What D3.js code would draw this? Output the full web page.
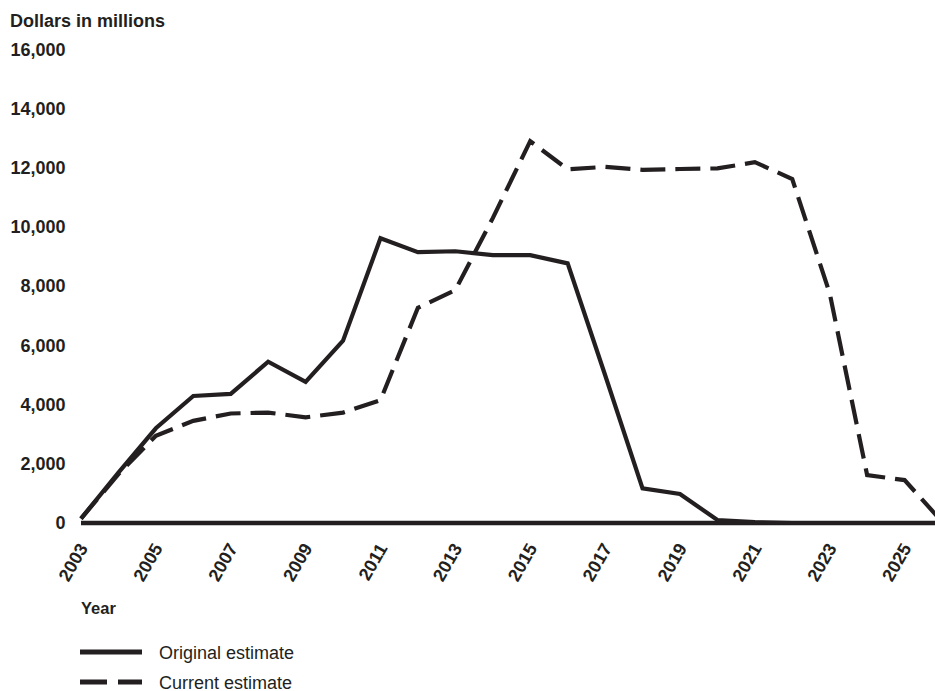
<!DOCTYPE html>
<html>
<head>
<meta charset="utf-8">
<script src="https://cdn.jsdelivr.net/npm/d3@7"></script>
<style>
  html, body { margin: 0; padding: 0; background: #fff; }
  svg { display: block; font-family: "Liberation Sans", Arial, Helvetica, sans-serif; }
</style>
</head>
<body>
<svg id="chart" width="935" height="691"></svg>
<script>
// ---- Data ----
const years = [2003,2004,2005,2006,2007,2008,2009,2010,2011,2012,2013,2014,2015,2016,2017,2018,2019,2020,2021,2022,2023,2024,2025,2026];
const originalEstimate = [150,1700,3200,4290,4360,5450,4770,6160,9620,9150,9180,9050,9050,8770,5000,1170,980,100,30,0,0,0,0,0];
const currentEstimate  = [150,1650,2950,3450,3700,3730,3570,3730,4150,7270,7870,10300,12900,11950,12030,11930,11960,11980,12190,11620,7760,1620,1450,50];
const xTickLabels = [2003,2005,2007,2009,2011,2013,2015,2017,2019,2021,2023,2025];
const yTickValues = [0,2000,4000,6000,8000,10000,12000,14000,16000];
const seriesNames = ["Original estimate", "Current estimate"];

const ink = "#231f20";
const svg = d3.select("#chart");

const x = d3.scaleLinear().domain([2003, 2026]).range([81, 942]);
const y = d3.scaleLinear().domain([0, 16000]).range([523, 49.4]);

// Y axis title
svg.append("text")
  .attr("x", 10).attr("y", 26.5)
  .attr("font-size", 18).attr("font-weight", "bold").attr("fill", ink)
  .text("Dollars in millions");

// Y axis
const yAxis = svg.append("g")
  .attr("transform", "translate(81,0)")
  .call(d3.axisLeft(y).tickValues(yTickValues).tickFormat(d3.format(",")).tickSize(0).tickPadding(15.5));
yAxis.select(".domain").remove();
yAxis.selectAll("text")
  .attr("font-size", 18).attr("font-weight", "bold").attr("fill", ink)
  .attr("font-family", "Liberation Sans, Arial, sans-serif");

// X axis
const xAxis = svg.append("g")
  .attr("transform", "translate(0,523)")
  .call(d3.axisBottom(x).tickValues(xTickLabels).tickFormat(d3.format("d")).tickSize(0));
xAxis.select(".domain").remove();
xAxis.selectAll("text")
  .attr("font-size", 18).attr("font-weight", "bold").attr("fill", ink)
  .attr("font-family", "Liberation Sans, Arial, sans-serif")
  .attr("text-anchor", "end")
  .attr("x", 0).attr("y", 0).attr("dy", 0)
  .attr("transform", "translate(7,25) rotate(-60)");

// Baseline
svg.append("line")
  .attr("x1", x(2003)).attr("x2", x(2026))
  .attr("y1", y(0)).attr("y2", y(0))
  .attr("stroke", ink).attr("stroke-width", 4.5);

// Lines
const line = d3.line().x((d, i) => x(years[i])).y(d => y(d));

svg.append("path")
  .datum(currentEstimate)
  .attr("d", line)
  .attr("fill", "none").attr("stroke", ink)
  .attr("stroke-width", 4.2)
  .attr("stroke-dasharray", "25,10");

svg.append("path")
  .datum(originalEstimate)
  .attr("d", line)
  .attr("fill", "none").attr("stroke", ink)
  .attr("stroke-width", 4.2)
  .attr("stroke-linejoin", "miter");

// X axis title
svg.append("text")
  .attr("x", 81).attr("y", 613.5)
  .attr("font-size", 16.5).attr("font-weight", "bold").attr("fill", ink)
  .text("Year");

// Legend
const legend = svg.append("g");
const legendRows = [
  { name: seriesNames[0], dash: null, y: 652 },
  { name: seriesNames[1], dash: "27,11", y: 682 }
];
legendRows.forEach(r => {
  legend.append("line")
    .attr("x1", 80).attr("x2", 142)
    .attr("y1", r.y).attr("y2", r.y)
    .attr("stroke", ink).attr("stroke-width", 5)
    .attr("stroke-dasharray", r.dash);
  legend.append("text")
    .attr("x", 159).attr("y", r.y + 6.5)
    .attr("font-size", 18).attr("fill", ink)
    .text(r.name);
});
</script>
</body>
</html>
